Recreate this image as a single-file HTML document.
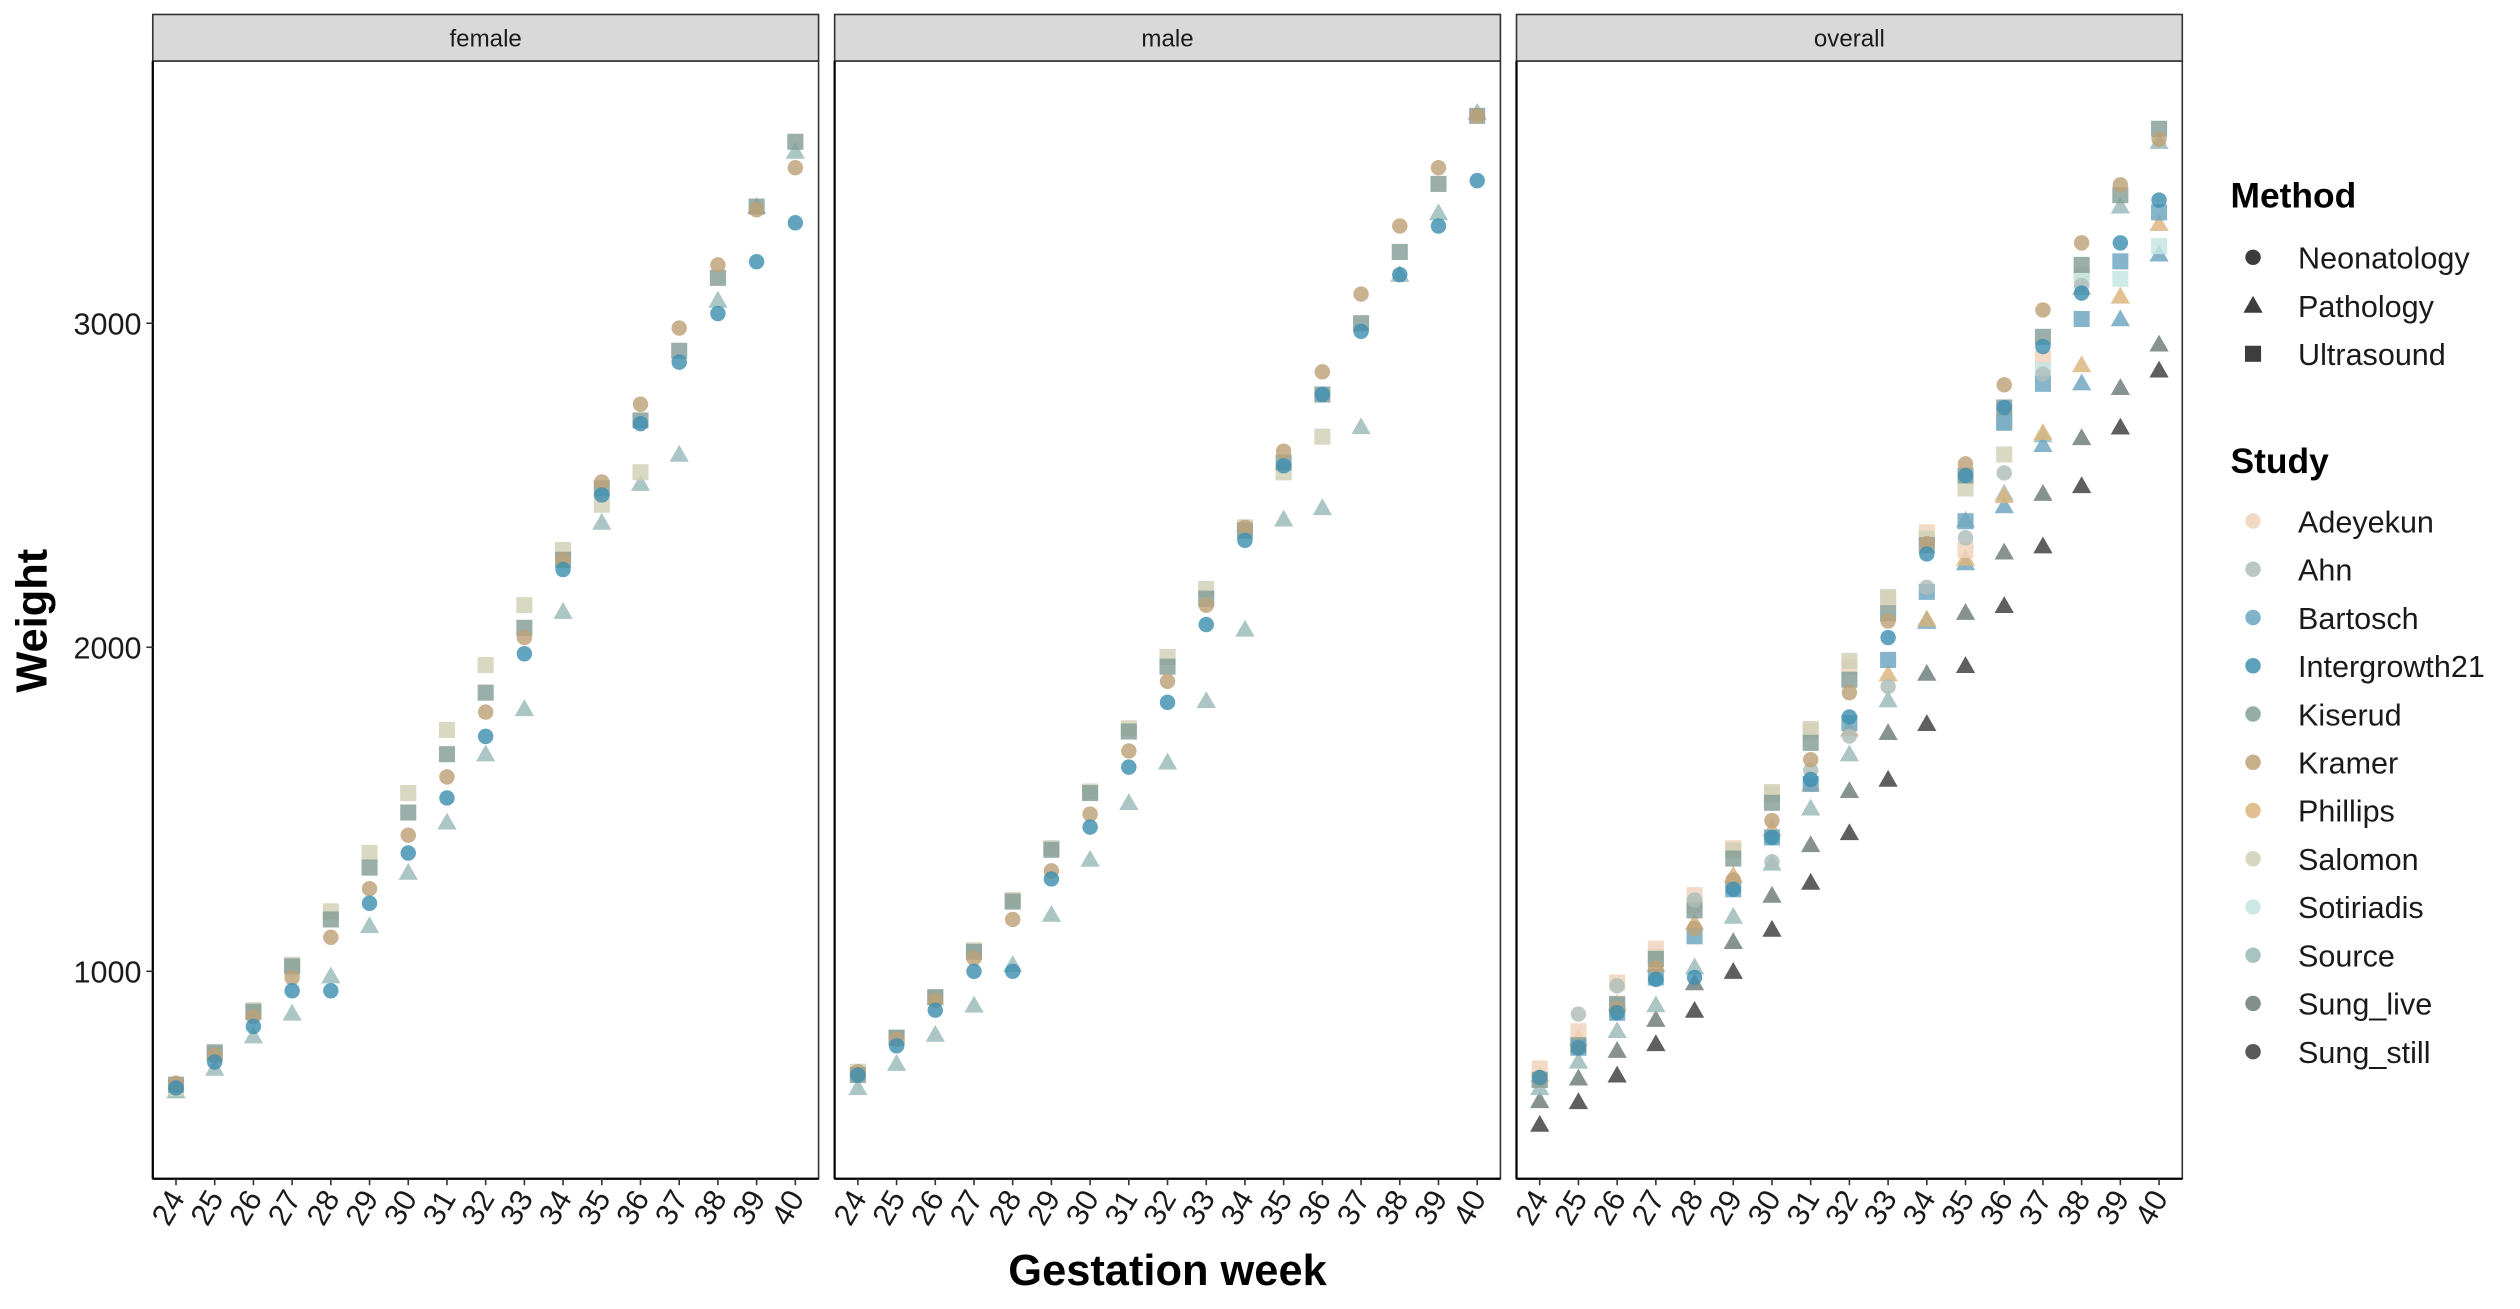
<!DOCTYPE html>
<html><head><meta charset="utf-8"><style>
html,body{margin:0;padding:0;background:#fff}
svg{display:block}
text{font-family:"Liberation Sans",Arial,sans-serif}
</style></head><body>
<svg id="chart" width="2520" height="1309" viewBox="0 0 1567 814" preserveAspectRatio="none" xmlns="http://www.w3.org/2000/svg"></svg>
<script>
const weeks=[24,25,26,27,28,29,30,31,32,33,34,35,36,37,38,39,40];
const panels=["female","male","overall"];
const yTicks=[1000,2000,3000];
const studies=["Adeyekun","Ahn","Bartosch","Intergrowth21","Kiserud","Kramer","Phillips","Salomon","Sotiriadis","Source","Sung_live","Sung_still"];
const studyColors=["#efd2bb","#aebdbb","#6ba5bf","#3f8fb0","#849d96","#bda178","#dcb57c","#d0d0b6","#c5e5e0","#9ab9b8","#6b7b78","#3c3c3c"];
const methods=["Neonatology","Pathology","Ultrasound"];
const N=null;
// female
const fIntergrowth=[640,720,830,940,940,1210,1365,1535,1725,1980,2240,2470,2690,2880,3030,3190,3310];
const fKramer=[655,740,860,980,1105,1255,1420,1600,1800,2030,2270,2510,2750,2985,3180,3350,3480];
const fKiserud=[650,750,875,1015,1160,1320,1490,1670,1860,2060,2270,2490,2700,2915,3140,3360,3560];
const fSalomon=[640,745,880,1020,1185,1365,1550,1745,1945,2130,2300,2440,2540,N,N,N,N];
const fSource=[630,700,800,870,985,1140,1305,1460,1670,1810,2110,2385,2505,2595,3070,3360,3530];
// male
const mIntergrowth=[680,770,880,1000,1000,1285,1445,1630,1830,2070,2330,2560,2780,2975,3150,3300,3440];
const mKramer=[690,790,910,1040,1160,1310,1485,1680,1895,2130,2370,2605,2850,3090,3300,3480,3640];
const mKiserud=[680,795,920,1060,1215,1375,1550,1740,1940,2150,2360,2570,2780,3000,3220,3430,3640];
const mSalomon=[690,795,920,1065,1220,1380,1555,1750,1970,2180,2370,2540,2650,N,N,N,N];
const mSource=[640,715,805,895,1020,1175,1345,1520,1645,1835,2055,2395,2430,2680,3150,3340,3650];
// overall
const oSungStill=[527,597,679,776,879,999,1129,1274,1427,1592,1764,1943,2128,2312,2498,2679,2855];
const oSungLive=[600,670,755,851,964,1091,1234,1390,1557,1736,1919,2107,2293,2474,2646,2801,2935];
const oSource=[640,722,816,896,1013,1169,1333,1503,1670,1837,2086,2392,2474,2655,3110,3361,3560];
const oBartoschP=[N,N,N,N,N,N,N,N,N,N,2079,2260,2436,2625,2815,3013,3213];
const oPhillips=[680,792,900,1020,1150,1296,1439,1578,1747,1917,2086,2274,2467,2662,2871,3083,3307];
const oKramer=[672,765,885,1010,1132,1282,1465,1653,1860,2081,2320,2566,2810,3041,3248,3427,3568];
const oIntergrowth=[672,764,872,975,981,1253,1413,1592,1785,2030,2288,2530,2740,2928,3093,3248,3380];
const oKiserud=[665,772,898,1038,1188,1348,1520,1705,1900,2105,2315,2530,2740,2958,3180,3395,3600];
const oSalomon=[665,770,900,1043,1203,1373,1553,1748,1958,2155,2335,2490,2595,N,N,N,N];
const oAdeyekun=[700,815,965,1070,1235,1380,1545,1740,1940,2150,2355,2300,2700,2890,3150,N,N];
const oAhn=[672,868,955,N,1220,N,1338,1620,1726,1879,2185,2338,2538,2843,3116,N,N];
const oSotiriadis=[N,N,N,N,N,N,N,N,N,N,N,N,2693,2855,3137,3137,3238];
const oBartoschU=[N,764,872,981,1108,1253,1413,1578,1766,1961,2171,2389,2693,2813,3013,3191,3342];

const series=[
 {p:0,s:"Source",m:"Pathology",v:fSource},{p:0,s:"Salomon",m:"Ultrasound",v:fSalomon},{p:0,s:"Kiserud",m:"Ultrasound",v:fKiserud},{p:0,s:"Kramer",m:"Neonatology",v:fKramer},{p:0,s:"Intergrowth21",m:"Neonatology",v:fIntergrowth},
 {p:1,s:"Source",m:"Pathology",v:mSource},{p:1,s:"Salomon",m:"Ultrasound",v:mSalomon},{p:1,s:"Kiserud",m:"Ultrasound",v:mKiserud},{p:1,s:"Kramer",m:"Neonatology",v:mKramer},{p:1,s:"Intergrowth21",m:"Neonatology",v:mIntergrowth},
 {p:2,s:"Sung_still",m:"Pathology",v:oSungStill},{p:2,s:"Sung_live",m:"Pathology",v:oSungLive},{p:2,s:"Source",m:"Pathology",v:oSource},{p:2,s:"Bartosch",m:"Pathology",v:oBartoschP},{p:2,s:"Phillips",m:"Pathology",v:oPhillips},
 {p:2,s:"Adeyekun",m:"Ultrasound",v:oAdeyekun},{p:2,s:"Sotiriadis",m:"Ultrasound",v:oSotiriadis},{p:2,s:"Salomon",m:"Ultrasound",v:oSalomon},{p:2,s:"Kiserud",m:"Ultrasound",v:oKiserud},{p:2,s:"Bartosch",m:"Ultrasound",v:oBartoschU},
 {p:2,s:"Ahn",m:"Neonatology",v:oAhn},{p:2,s:"Kramer",m:"Neonatology",v:oKramer},{p:2,s:"Intergrowth21",m:"Neonatology",v:oIntergrowth}
];

const NS="http://www.w3.org/2000/svg";
const svg=document.getElementById('chart');
function mk(tag,attrs,parent){const e=document.createElementNS(NS,tag);for(const k in attrs)e.setAttribute(k,attrs[k]);(parent||svg).appendChild(e);return e;}
const panelX=[95,519,943],panelW=414,plotTop=38,plotBottom=733;
const yScale=v=>604-(v-1000)*0.2015;
const xScale=(p,i)=>panelX[p]+(i+0.6)*(panelW/17.2);
function marker(shape,cx,cy,color,g,op){
  let e;
  if(shape==="Neonatology")e=mk('circle',{cx:cx,cy:cy,r:4.8,fill:color,'fill-opacity':op},g);
  else if(shape==="Ultrasound")e=mk('rect',{x:cx-5,y:cy-5,width:10,height:10,fill:color,'fill-opacity':op},g);
  else e=mk('polygon',{points:`${cx-6},${cy+4.5} ${cx+6},${cy+4.5} ${cx},${cy-6}`,fill:color,'fill-opacity':op},g);
  return e;
}
panels.forEach((name,p)=>{
  const g=mk('g',{});
  
  
  const strip=mk('rect',{x:panelX[p],y:9,width:panelW,height:29,fill:'#d9d9d9',stroke:'#333','stroke-width':1},g);
  
  
  const st=mk('text',{x:panelX[p]+panelW/2,y:29,'text-anchor':'middle','font-size':15,fill:'#1a1a1a'},g);
  st.textContent=name;
  
  
  const bg=mk('rect',{x:panelX[p],y:plotTop,width:panelW,height:plotBottom-plotTop,fill:'#fff',stroke:'#333','stroke-width':1},g);
  
  
  mk('line',{x1:panelX[p],y1:plotTop,x2:panelX[p],y2:plotBottom,stroke:'#000','stroke-width':1.4},g);
  mk('line',{x1:panelX[p],y1:plotBottom,x2:panelX[p]+panelW,y2:plotBottom,stroke:'#000','stroke-width':1.4},g);
  weeks.forEach((w,i)=>{
    const x=xScale(p,i);
    mk('line',{x1:x,y1:plotBottom,x2:x,y2:plotBottom+4,stroke:'#333','stroke-width':1},g);
    const t=mk('text',{x:x+6,y:plotBottom+12,'text-anchor':'end','font-size':19,fill:'#1a1a1a',transform:`rotate(-60 ${x+6} ${plotBottom+12})`},g);
    t.textContent=w;
    
    
  });
});
yTicks.forEach(v=>{
  const y=yScale(v);
  mk('line',{x1:91,y1:y,x2:95,y2:y,stroke:'#333','stroke-width':1});
  const t=mk('text',{x:88,y:y+7,'text-anchor':'end','font-size':19,fill:'#1a1a1a'});
  t.textContent=v;
  
  
});
const pts=mk('g',{});


series.forEach(sr=>{
  const col=studyColors[studies.indexOf(sr.s)];
  sr.v.forEach((v,i)=>{
    if(v===null)return;
    const e=marker(sr.m,xScale(sr.p,i),yScale(v),col,pts,0.82);
    
    
  });
});
const yt=mk('text',{x:0,y:0,'text-anchor':'middle','font-size':27,'font-weight':'bold',fill:'#000',transform:'translate(29 386) rotate(-90)'});
yt.textContent='Weight';


const xt=mk('text',{x:726,y:799,'text-anchor':'middle','font-size':27,'font-weight':'bold',fill:'#000'});
xt.textContent='Gestation week';


const lg=mk('g',{});


const mt=mk('text',{x:1387,y:129,'font-size':22,'font-weight':'bold',fill:'#000'},lg);
mt.textContent='Method';


methods.forEach((m,i)=>{
  const y=160+i*30;
  const e=marker(m,1401,y,'#333',lg,0.95);
  
  
  const t=mk('text',{x:1429,y:y+7,'font-size':19,fill:'#1a1a1a'},lg);
  t.textContent=m;
  
  
});
const stt=mk('text',{x:1387,y:294,'font-size':22,'font-weight':'bold',fill:'#000'},lg);
stt.textContent='Study';


studies.forEach((s,i)=>{
  const y=324+i*30;
  const c=mk('circle',{cx:1401,cy:y,r:4.8,fill:studyColors[i],'fill-opacity':0.85},lg);
  
  
  const t=mk('text',{x:1429,y:y+7,'font-size':19,fill:'#1a1a1a'},lg);
  t.textContent=s;
  
  
});
</script>
</body></html>
